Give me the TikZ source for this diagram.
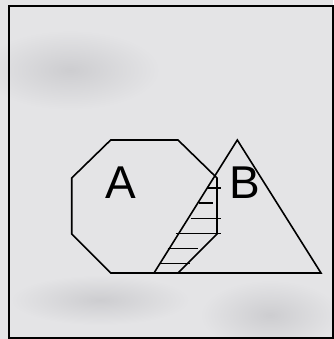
\documentclass[tikz,border=0pt]{standalone}
\usepackage{fontspec}
\setmainfont{Liberation Sans}
\definecolor{fondo}{RGB}{228,228,230}
\definecolor{mancha}{RGB}{205,205,208}
\begin{document}
\begin{tikzpicture}[x=1pt, y=-1pt, line width=1.6pt,
  every node/.style={inner sep=0pt, font=\fontsize{46}{46}\selectfont}]
  \useasboundingbox (0,0) rectangle (333,339);
  % fondo
  \fill[fondo] (0,0) rectangle (333,339);
  \shade[inner color=mancha, outer color=fondo] (70,70) ellipse (90 and 40);
  \shade[inner color=mancha, outer color=fondo] (270,315) ellipse (70 and 35);
  \shade[inner color=mancha, outer color=fondo] (100,300) ellipse (90 and 25);
  \draw[line width=2pt] (8.5,6) rectangle (333,338);

  % Octagono A
  \draw (110.7,140) -- (178,140) -- (217,178) -- (217,234) -- (178,273)
        -- (110.7,273) -- (71.7,234) -- (71.7,178) -- cycle;
  \node (a) at (121,183) {A};

  % Triangulo B
  \draw (237.3,140) -- (321,273) -- (154,273) -- cycle;
  \node (b) at (245,183) {B};

  % Interseccion
  \draw (206.7,187.7) -- (220.7,187.7);
  \draw (199,202.7) -- (212.7,202.7);
  \draw (190.7,218.3) -- (220.7,218.3);
  \draw (175.7,233.3) -- (220.7,233.3);
  \draw (167.7,248.3) -- (197.7,248.3);
  \draw (160,263.3) -- (190,263.3);
\end{tikzpicture}
\end{document}
